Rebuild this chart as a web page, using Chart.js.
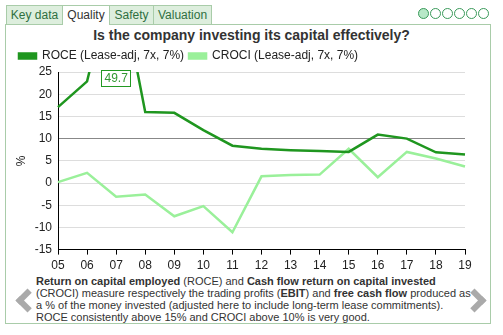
<!DOCTYPE html>
<html>
<head>
<meta charset="utf-8">
<script src="https://cdn.jsdelivr.net/npm/chart.js@4.4.1/dist/chart.umd.min.js"></script>
<style>
  body { margin: 0; background: #fff; font-family: Arial, "Liberation Sans", sans-serif; }
  #wrap { position: relative; width: 503px; height: 335px; overflow: hidden; }
  .tab { position: absolute; top: 5px; height: 19px; line-height: 19px; font-size: 12px; color: #2f6f3f;
         background: #ddeedd; border: 1px solid #a9cca9; border-bottom: none; text-align: center; box-sizing: border-box; }
  .tab.active { background: #fff; color: #333; height: 20px; }
  #panel { position: absolute; left: 5px; top: 24px; width: 486px; height: 300px; border: 1px solid #a9cca9; box-sizing: border-box; }
  .dot { position: absolute; top: 8px; width: 11px; height: 11px; border: 1px solid #3a9a5a; border-radius: 50%; box-sizing: border-box; background: #fff; }
  .dot.on { background: #b8e8c8; }
  #title { position: absolute; left: 0; width: 503px; top: 27px; text-align: center; font-weight: bold; font-size: 14px; color: #333; }
  #chartBox { position: absolute; left: 6px; top: 45px; width: 483px; height: 232px; z-index: 2; }
  #desc { position: absolute; left: 36px; top: 275px; width: 440px; font-size: 11px; line-height: 12px; color: #333; }
  #desc b { font-weight: bold; }
  .chev { position: absolute; top: 292px; width: 11px; height: 11px; border-left: 6px solid #aaa; border-bottom: 6px solid #aaa; }
</style>
</head>
<body>
<div id="wrap">
  <div id="panel"></div>
  <div class="tab" style="left:6px;width:57px;">Key data</div>
  <div class="tab active" style="left:62px;width:48px;">Quality</div>
  <div class="tab" style="left:109px;width:45px;">Safety</div>
  <div class="tab" style="left:153px;width:59px;">Valuation</div>
  <div class="dot on" style="left:418px;"></div>
  <div class="dot" style="left:430px;"></div>
  <div class="dot" style="left:442px;"></div>
  <div class="dot" style="left:454px;"></div>
  <div class="dot" style="left:466px;"></div>
  <div class="dot" style="left:478px;"></div>
  <div id="title">Is the company investing its capital effectively?</div>
  <div id="desc"><b>Return on capital employed</b> (ROCE) and <b>Cash flow return on capital invested</b> (CROCI) measure respectively the trading profits (<b>EBIT</b>) and <b>free cash flow</b> produced as a % of the money invested (adjusted here to include long-term lease commitments). ROCE consistently above 15% and CROCI above 10% is very good.</div>
  <div class="chev" style="left:19px;transform:rotate(45deg);"></div>
  <div class="chev" style="left:466px;transform:rotate(-135deg);"></div>
  <div id="chartBox"><canvas id="qualityChart"></canvas></div>
</div>
<script>
const years = ['05', '06', '07', '08', '09', '10', '11', '12', '13', '14', '15', '16', '17', '18', '19'];
const roceValues = [17.1, 22.9, 49.7, 16.0, 15.8, 11.9, 8.4, 7.7, 7.4, 7.2, 7.0, 10.9, 10.0, 6.9, 6.4];
const crociValues = [0.2, 2.3, -3.1, -2.6, -7.5, -5.2, -11.1, 1.5, 1.8, 1.9, 7.7, 1.3, 7.0, 5.5, 3.7];
const yMin = -15;
const yMax = 25;
const yStep = 5;

const roceLabel = 'ROCE (Lease-adj, 7x, 7%)';
const crociLabel = 'CROCI (Lease-adj, 7x, 7%)';

/** Label values that run off the top of the plot. */
const overflowLabels = {
    id: 'overflowLabels',
    afterDatasetsDraw(chart) {
        const ctx = chart.ctx;
        const top = chart.chartArea.top - 2;
        const xScale = chart.scales.x;
        chart.data.datasets.forEach((ds) => {
            ds.data.forEach((v, i) => {
                if (v <= yMax) return;
                const txt = v.toFixed(1);
                ctx.save();
                ctx.font = '12px Arial';
                const w = ctx.measureText(txt).width + 6;
                const x = xScale.getPixelForValue(i);
                ctx.fillStyle = '#fff';
                ctx.fillRect(x - w / 2, top, w, 16);
                ctx.strokeStyle = '#229922';
                ctx.lineWidth = 1;
                ctx.strokeRect(Math.round(x - w / 2) + 0.5, top + 0.5, Math.round(w), 16);
                ctx.fillStyle = '#339933';
                ctx.textAlign = 'center';
                ctx.textBaseline = 'middle';
                ctx.fillText(txt, x, top + 9);
                ctx.restore();
            });
        });
    }
};

new Chart(document.getElementById('qualityChart'), {
    type: 'line',
    data: {
        labels: years,
        datasets: [{
            label: roceLabel,
            data: roceValues,
            borderColor: '#1f961f',
            backgroundColor: '#1f961f',
            borderWidth: 2.5,
            pointRadius: 0,
            clip: { left: 2, right: 2, top: 0, bottom: 2 }
        }, {
            label: crociLabel,
            data: crociValues,
            borderColor: '#9af09a',
            backgroundColor: '#9af09a',
            borderWidth: 2.5,
            pointRadius: 0,
            clip: { left: 2, right: 2, top: 0, bottom: 2 }
        }]
    },
    options: {
        responsive: true,
        maintainAspectRatio: false,
        animation: false,
        layout: { padding: { left: 8, right: 24, top: 0, bottom: 0 } },
        plugins: {
            legend: {
                position: 'top',
                align: 'start',
                labels: {
                    boxWidth: 17,
                    boxHeight: 5,
                    padding: 5,
                    color: '#222',
                    font: { family: 'Arial', size: 12 }
                }
            },
            tooltip: { enabled: false }
        },
        scales: {
            x: {
                offset: false,
                border: { color: '#000', width: 1 },
                grid: { drawOnChartArea: false, drawTicks: true, tickLength: 5, color: '#000' },
                ticks: { color: '#222', font: { family: 'Arial', size: 12 }, maxRotation: 0, autoSkip: false, padding: 4 }
            },
            y: {
                min: yMin,
                max: yMax,
                afterFit: (axis) => { axis.width = 44; },
                border: { color: '#000', width: 1 },
                grid: {
                    drawTicks: false,
                    color: (c) => c.tick && c.tick.value === 10 ? '#888' : '#dddddd'
                },
                ticks: { stepSize: yStep, color: '#222', font: { family: 'Arial', size: 12 }, padding: 6, autoSkip: false, z: 1 },
                title: { display: true, text: '%', color: '#222', font: { family: 'Arial', size: 12 }, padding: { top: 0, bottom: 4 } }
            }
        }
    },
    plugins: [overflowLabels]
});
</script>
</body>
</html>
